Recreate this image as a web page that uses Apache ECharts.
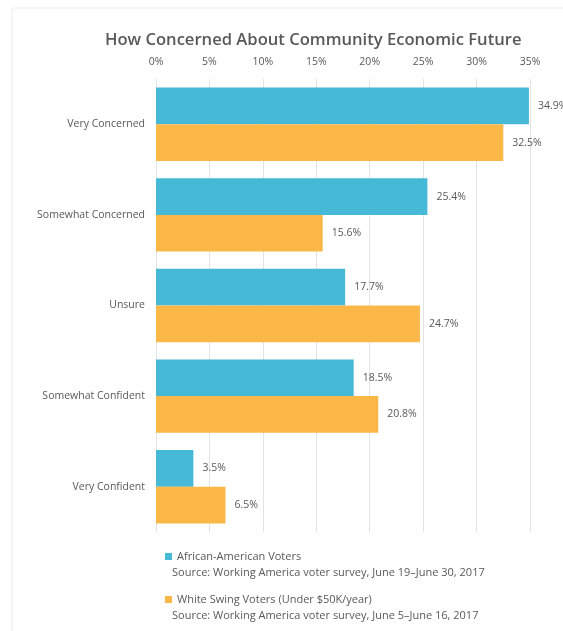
<!DOCTYPE html>
<html>
<head>
<meta charset="utf-8">
<script src="https://cdn.jsdelivr.net/npm/echarts@6/dist/echarts.min.js"></script>
<style>
  html, body { margin: 0; padding: 0; background: #ffffff; }
  #chart { width: 563px; height: 631px; }
</style>
</head>
<body>
<div id="chart"></div>
<script>
// Survey answers, top to bottom
const categories = ['Very Concerned', 'Somewhat Concerned', 'Unsure', 'Somewhat Confident', 'Very Confident'];

// Share of respondents (%)
const africanAmerican = [34.9, 25.4, 17.7, 18.5, 3.5];
const whiteSwing = [32.5, 15.6, 24.7, 20.8, 6.5];

const seriesNames = ['African-American Voters', 'White Swing Voters (Under $50K/year)'];
const sourceNotes = [
  'Source: Working America voter survey, June 19\u2013June 30, 2017',
  'Source: Working America voter survey, June 5\u2013June 16, 2017'
];

const BLUE = '#46B9D6';
const ORANGE = '#FBB748';
const TEXT = '#595959';
const FONT = '"Open Sans", "Liberation Sans", sans-serif';

const chart = echarts.init(document.getElementById('chart'), null, { renderer: 'canvas' });

const valueLabel = {
  show: true,
  position: 'right',
  distance: 9,
  color: TEXT,
  fontFamily: FONT,
  fontSize: 10.5,
  formatter: p => p.value.toFixed(1) + '%'
};

chart.setOption({
  backgroundColor: '#ffffff',
  animation: false,
  title: {
    text: 'How Concerned About Community Economic Future',
    left: 100,
    top: 27,
    textStyle: { color: TEXT, fontFamily: FONT, fontSize: 16.6, fontWeight: 600 }
  },
  legend: [
    {
      data: [seriesNames[0]],
      left: 160, top: 546,
      itemWidth: 7, itemHeight: 7,
      icon: 'rect',
      textStyle: { color: TEXT, fontFamily: FONT, fontSize: 11 },
      itemGap: 4
    },
    {
      data: [seriesNames[1]],
      left: 160, top: 589,
      itemWidth: 7, itemHeight: 7,
      icon: 'rect',
      textStyle: { color: TEXT, fontFamily: FONT, fontSize: 11 },
      itemGap: 4
    }
  ],
  graphic: [
    {
      type: 'rect',
      shape: { x: 12, y: 8, width: 560, height: 640 },
      style: { fill: 'none', stroke: '#ececec', lineWidth: 1 },
      silent: true
    },
    {
      type: 'text', left: 172, top: 567,
      style: { text: sourceNotes[0], fill: TEXT, font: '11px ' + FONT }
    },
    {
      type: 'text', left: 172, top: 610,
      style: { text: sourceNotes[1], fill: TEXT, font: '11px ' + FONT }
    }
  ],
  grid: { left: 156, right: 33, top: 79, bottom: 99 },
  xAxis: {
    type: 'value',
    position: 'top',
    min: 0, max: 35, interval: 5,
    axisLine: { show: false },
    axisTick: { show: false },
    axisLabel: {
      color: TEXT, fontFamily: FONT, fontSize: 10.5, margin: 11,
      formatter: v => v + '%'
    },
    splitLine: { show: true, lineStyle: { color: '#e3e3e3', width: 1 } }
  },
  yAxis: {
    type: 'category',
    data: categories,
    inverse: true,
    axisLine: { show: false },
    axisTick: { show: false },
    axisLabel: { color: TEXT, fontFamily: FONT, fontSize: 10.5, margin: 11 }
  },
  series: [
    {
      name: seriesNames[0], type: 'bar', data: africanAmerican,
      itemStyle: { color: BLUE }, barGap: '0%', barCategoryGap: '19%',
      label: valueLabel
    },
    {
      name: seriesNames[1], type: 'bar', data: whiteSwing,
      itemStyle: { color: ORANGE }, barGap: '0%', barCategoryGap: '19%',
      label: valueLabel
    }
  ]
});
</script>
</body>
</html>
